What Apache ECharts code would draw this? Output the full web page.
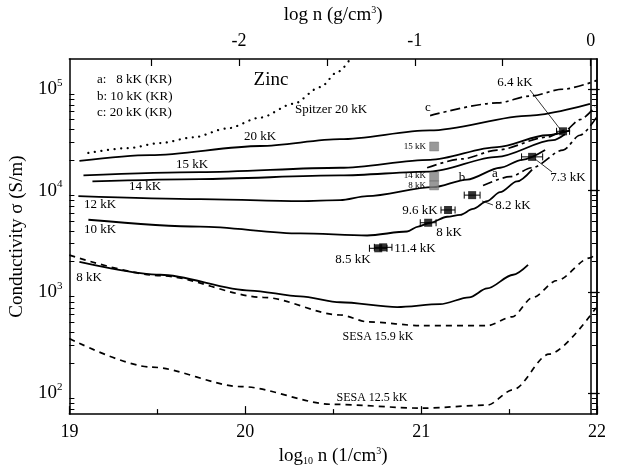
<!DOCTYPE html>
<html><head><meta charset="utf-8">
<script src="https://cdn.jsdelivr.net/npm/echarts@6/dist/echarts.min.js"></script>
<style>html,body{margin:0;padding:0;background:#fff}#c{width:628px;height:471px}</style>
</head><body><div id="c"></div>
<script>
// ---- data (x: log10 n [1/cm^3], y: conductivity S/m) ----
const spitzerX = [19.108,19.330,19.517,19.705,19.898,20.085,20.273,20.426,20.528,20.62];
const spitzerY = [23500,26200,29400,33500,41000,52400,71600,104500,149000,230000];
const k20X = [19.057,19.46,20.085,20.54,21.05,21.62,21.96];
const k20Y = [19600,22400,27500,32100,39200,54800,71600];
const k15X = [19.08,19.744,20.54,21.051,21.432,21.716,21.847];
const k15Y = [14100,15200,16800,20100,26800,35100,39200];
const k14X = [19.131,19.744,20.54,21.051,21.432,21.75,21.818];
const k14Y = [12300,13000,14100,15400,21500,31400,35900];
const k12X = [19.051,19.744,20.313,20.54,20.693,21.068,21.261,21.449,21.574,21.705];
const k12Y = [8810,8240,7870,8050,8810,10800,12850,16800,20100,25100];
const k10X = [19.108,19.744,20.313,20.693,20.92,20.983,21.051,21.148,21.222,21.295,21.375,21.449,21.545,21.631];
const k10Y = [5160,4410,3780,3610,3950,4420,4820,5520,5770,6590,7870,9640,12300,16100];
const k8X = [19.057,19.517,20.028,20.313,20.54,20.864,21.108,21.273,21.375,21.523,21.608];
const k8Y = [1980,1480,1035,906,793,710,759,887,1085,1480,1850];
const sesa159X = [19.0,19.517,20.102,20.54,20.699,21.006,21.375,21.517,21.636,21.773,21.96,22.0];
const sesa159Y = [2310,1450,887,594,508,466,466,570,887,1300,2170,2430];
const sesa125X = [19.0,19.466,19.977,20.494,21.006,21.375,21.523,21.727,21.994];
const sesa125Y = [348,182,117,78.3,71.7,76.7,109,244,697];
const krAX = [21.352,21.506,21.631,21.807,21.903,22.0];
const krAY = [11200,13700,16800,25100,35100,53600];
const krBX = [21.034,21.233,21.432,21.716,21.818,21.903,21.989];
const krBY = [16800,20500,25100,33600,39200,50100,67000];
const krCX = [21.051,21.432,21.619,21.807,22.0];
const krCY = [54800,73100,85500,100000,122000];
const expX = [21.807,21.631,21.290,21.153,21.040,20.784,20.756];
const expY = [38400,21500,9020,6440,4820,2760,2700];
const expErr = [0.037,0.06,0.045,0.04,0.045,0.05,0.05];
const grayX = [21.074,21.074,21.074];
const grayY = [27200,13740,11250];
const xTicks = [19,20,21,22];
const rhoTicks = [-2.5,-2,-1.5,-1,-0.5,0];
const rhoLabels = [-2,-1,0];
const yMajor = [2,3,4,5];

const L = Math.log10;
const pts = (xs, ys) => xs.map((x,i)=>[x, L(ys[i])]);
const FONT = 'Liberation Serif';
const yMin = 1.797, yMax = 5.297;
const yMinor = [];
for (let k=1;k<=5;k++) for (let m=2;m<=9;m++){ const v=L(m*Math.pow(10,k)); if(v>yMin && v<yMax) yMinor.push(v); }

const DASH=[6,5], DASHDOT=[10,4,3,4], DOT=[0.1,6.5];
function lineS(name, xs, ys, type, w){
  return {name, type:'line', data:pts(xs,ys), showSymbol:false, smooth:0.3, smoothMonotone:'x',
    lineStyle:{color:'#000', width:w||1.8, type:type||'solid', cap:type===DOT ? 'round':'butt'},
    xAxisIndex:0, yAxisIndex:0, silent:true, z:3};
}

const series = [
  lineS('Spitzer 20 kK', spitzerX, spitzerY, DOT, 2.2),
  lineS('20 kK', k20X, k20Y), lineS('15 kK', k15X, k15Y), lineS('14 kK', k14X, k14Y),
  lineS('12 kK', k12X, k12Y), lineS('10 kK', k10X, k10Y), lineS('8 kK', k8X, k8Y),
  lineS('SESA 15.9 kK', sesa159X, sesa159Y, DASH, 1.7), lineS('SESA 12.5 kK', sesa125X, sesa125Y, DASH, 1.7),
  lineS('a', krAX, krAY, DASHDOT, 1.7), lineS('b', krBX, krBY, DASHDOT, 1.7), lineS('c', krCX, krCY, DASHDOT, 1.7),
  {type:'custom', xAxisIndex:0, yAxisIndex:0, z:4, silent:true,
   data: expX.map((x,i)=>[x, L(expY[i]), expErr[i]]),
   renderItem(params, api){
     const x=api.value(0), y=api.value(1), e=api.value(2);
     const p1=api.coord([x-e,y]), p2=api.coord([x+e,y]);
     const st={stroke:'#000', lineWidth:1};
     return {type:'group', children:[
       {type:'line', shape:{x1:p1[0],y1:p1[1],x2:p2[0],y2:p2[1]}, style:st},
       {type:'line', shape:{x1:p1[0],y1:p1[1]-3.5,x2:p1[0],y2:p1[1]+3.5}, style:st},
       {type:'line', shape:{x1:p2[0],y1:p2[1]-3.5,x2:p2[0],y2:p2[1]+3.5}, style:st}
     ]};
   }},
  {type:'scatter', xAxisIndex:0, yAxisIndex:0, z:5, silent:true, symbol:'rect', symbolSize:8,
   itemStyle:{color:'#000'}, data: pts(expX, expY)},
  {type:'scatter', xAxisIndex:0, yAxisIndex:0, z:5, silent:true, symbol:'rect', symbolSize:[9,9],
   itemStyle:{color:'#808080', borderColor:'#666', borderWidth:0.5}, data: pts(grayX, grayY)}
];

const axLine = {show:true, lineStyle:{color:'#000', width:1.5}};
const lbl = {color:'#000', fontFamily:FONT, fontSize:18};
const yBase = (pos)=>({type:'value', position:pos, min:yMin, max:yMax, axisLine:axLine, splitLine:{show:false}});

const txt = (t,x,y,size,align,extra)=>({type:'text', x, y, z:10, silent:true,
  style:Object.assign({text:t, fill:'#000', font:(size||13)+'px "'+FONT+'"', textAlign:align||'center', textVerticalAlign:'middle'}, extra||{})});
const ln = (x1,y1,x2,y2)=>({type:'line', z:10, silent:true, shape:{x1,y1,x2,y2}, style:{stroke:'#000', lineWidth:0.8}});

const chart = echarts.init(document.getElementById('c'), null, {renderer:'canvas'});
chart.setOption({
  backgroundColor:'#fff',
  animation:false,
  grid:{left:69, right:31, top:57, bottom:52, containLabel:false},
  xAxis:[
    {type:'value', position:'bottom', min:19, max:22, interval:1, axisLine:axLine,
     axisTick:{inside:true, length:8, lineStyle:{color:'#000', width:1.2}},
     minorTick:{show:true, splitNumber:2, length:5, lineStyle:{color:'#000', width:1.2}},
     axisLabel:Object.assign({margin:9, customValues:xTicks}, lbl), splitLine:{show:false},
     name:'{a|log}{s|10}{a| n (1/cm}{p|3}{a|)}', nameLocation:'middle', nameGap:29,
     nameTextStyle:{color:'#000', rich:{a:{fontFamily:FONT, fontSize:19, color:'#000'}, s:{fontFamily:FONT, fontSize:10, color:'#000', padding:[10,0,0,0]}, p:{fontFamily:FONT, fontSize:10, color:'#000', padding:[0,0,10,0]}}}},
    {type:'value', position:'top', min:-2.964, max:0.036, axisLine:axLine,
     axisTick:{inside:true, length:7, customValues:rhoTicks, lineStyle:{color:'#000', width:1.2}},
     axisLabel:Object.assign({margin:9, customValues:rhoLabels}, lbl), splitLine:{show:false},
     name:'{a|log n (g/cm}{p|3}{a|)}', nameLocation:'middle', nameGap:34,
     nameTextStyle:{color:'#000', rich:{a:{fontFamily:FONT, fontSize:19, color:'#000'}, p:{fontFamily:FONT, fontSize:10, color:'#000', padding:[0,0,10,0]}}}}
  ],
  yAxis:[
    Object.assign(yBase('left'), {
      axisTick:{inside:true, length:9, customValues:yMajor, lineStyle:{color:'#000', width:1.2}},
      axisLabel:{margin:7, customValues:yMajor, formatter:v=>'{b|10}{s|'+Math.round(v)+'}',
        rich:{b:{fontFamily:FONT, fontSize:19, color:'#000'}, s:{fontFamily:FONT, fontSize:11, color:'#000', padding:[0,0,12,0]}}},
      name:'Conductivity σ (S/m)', nameLocation:'middle', nameGap:36, nameRotate:90,
      nameTextStyle:{color:'#000', fontFamily:FONT, fontSize:19}}),
    Object.assign(yBase('left'), {axisTick:{inside:true, length:5, customValues:yMinor, lineStyle:{color:'#000', width:1}}, axisLabel:{show:false}}),
    Object.assign(yBase('right'), {axisTick:{inside:true, length:9, customValues:yMajor, lineStyle:{color:'#000', width:1.2}}, axisLabel:{show:false}}),
    Object.assign(yBase('right'), {axisTick:{inside:true, length:5, customValues:yMinor, lineStyle:{color:'#000', width:1}}, axisLabel:{show:false}})
  ],
  series,
  graphic:[
    txt('a:   8 kK (KR)', 97, 80, 13, 'left'),
    txt('b: 10 kK (KR)', 97, 97, 13, 'left'),
    txt('c: 20 kK (KR)', 97, 113, 13, 'left'),
    txt('Zinc', 271, 80, 19),
    txt('Spitzer 20 kK', 295, 110, 13, 'left'),
    txt('20 kK', 260, 137), txt('15 kK', 192, 165), txt('14 kK', 145, 187),
    txt('12 kK', 100, 205), txt('10 kK', 100, 230), txt('8 kK', 89, 278),
    txt('c', 428, 108), txt('b', 462, 178), txt('a', 495, 174),
    txt('15 kK', 426, 147, 9, 'right'), txt('14 kK', 426, 176, 9, 'right'), txt('8 kK', 426, 186, 9, 'right'),
    txt('6.4 kK', 515, 83), txt('7.3 kK', 568, 178), txt('8.2 kK', 513, 206),
    txt('9.6 kK', 420, 211), txt('8 kK', 449, 233), txt('11.4 kK', 415, 249), txt('8.5 kK', 353, 260),
    txt('SESA 15.9 kK', 378, 337, 12), txt('SESA 12.5 kK', 372, 398, 12),
    ln(530, 90, 560, 129), ln(535, 159, 552, 172), ln(482, 201, 493, 205)
  ]
});
</script></body></html>
